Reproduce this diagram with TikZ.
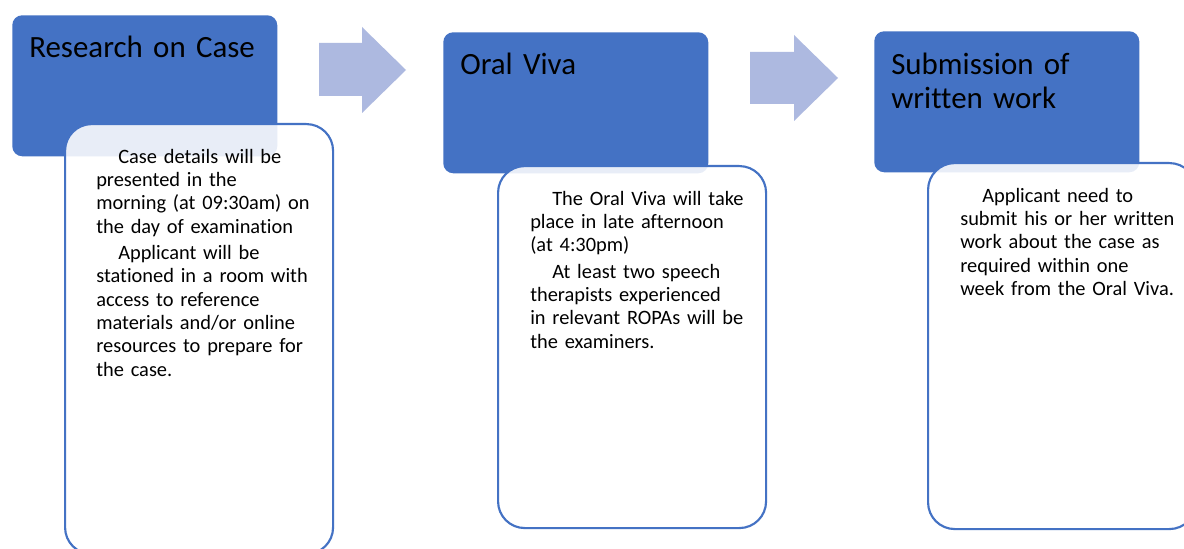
\documentclass[tikz,border=0pt]{standalone}
\usepackage{fontspec}
\setmainfont{Carlito}[Ligatures=NoCommon]
\definecolor{accent}{RGB}{68,114,196}
\definecolor{arrowc}{RGB}{173,185,224}
\tikzset{
  stagebox/.style={fill=accent, draw=none, rounded corners=7.5pt, anchor=north west,
    minimum width=198.75pt, minimum height=105.75pt, inner sep=0pt},
  cardbox/.style={fill=white, fill opacity=0.88, draw=accent, line width=1.6pt,
    rounded corners=20pt, anchor=north west, minimum width=201pt, inner sep=0pt},
  titletext/.style={anchor=base west, inner sep=0pt, align=left, text width=195pt,
    font=\fontsize{23.2}{24.8}\selectfont},
  bodytext/.style={anchor=base west, inner sep=0pt, align=left, text width=190pt,
    font=\fontsize{15.3}{17.5}\selectfont},
  flowarrow/.style={fill=arrowc, draw=none}
}
\newcommand{\pin}{\hspace*{16.5pt}}
\begin{document}
\begin{tikzpicture}[x=0.75pt,y=-0.75pt]
\useasboundingbox (0,0) rectangle (1184,549);
\clip (0,0) rectangle (1184,549);
\fill[white] (0,0) rectangle (1184,549);

% stage 1
\node[stagebox] (b1) at (12,15) {};
\node[titletext] (t1) at (29,58) {Research on Case};
% arrow 1
\fill[flowarrow] (319,43) -- (362,43) -- (362,27) -- (406,70) -- (362,113) -- (362,96) -- (319,96) -- cycle;
\node[cardbox, minimum height=322.5pt] (c1) at (64,123) {};
\node[bodytext] (d1) at (96,163) {\pin Case details will be\\
presented in the\\
morning (at 09:30am) on\\
the day of examination\\[2.25pt]
\pin Applicant will be\\
stationed in a room with\\
access to reference\\
materials and/or online\\
resources to prepare for\\
the case.};

% stage 2
\node[stagebox] (b2) at (443,32) {};
\node[titletext] (t2) at (460,75) {Oral Viva};
% arrow 2
\fill[flowarrow] (750,52) -- (794,52) -- (794,35) -- (838,78) -- (794,121) -- (794,104) -- (750,104) -- cycle;
\node[cardbox, minimum height=271.5pt] (c2) at (497,165) {};
\node[bodytext] (d2) at (530,205) {\pin The Oral Viva will take\\
place in late afternoon\\
(at 4:30pm)\\[2.25pt]
\pin At least two speech\\
therapists experienced\\
in relevant ROPAs will be\\
the examiners.};

% stage 3
\node[stagebox] (b3) at (874,31) {};
\node[titletext] (t3) at (891,75) {Submission of\\ written work};
\node[cardbox, minimum height=274.5pt] (c3) at (927,162) {};
\node[bodytext] (d3) at (960,202) {\pin Applicant need to\\
submit his or her written\\
work about the case as\\
required within one\\
week from the Oral Viva.};
\end{tikzpicture}
\end{document}
